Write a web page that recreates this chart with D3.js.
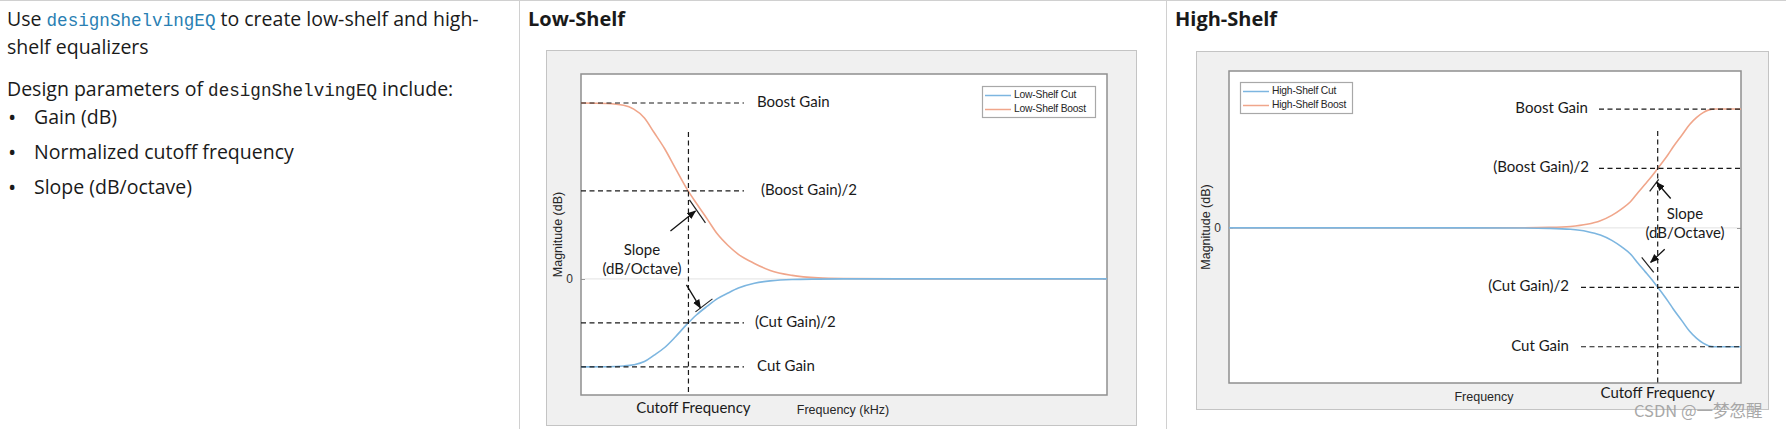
<!DOCTYPE html>
<html><head><meta charset="utf-8">
<script src="https://cdn.jsdelivr.net/npm/d3@7"></script>
<style>body{margin:0;background:#fff;}svg{display:block;}</style>
</head><body>
<svg id="c" width="1786" height="429"></svg>
<script>
// ---------- data ----------
const lowFreq  = [0.02, 0.028, 0.035, 0.04, 0.046, 0.052, 0.06, 0.069, 0.08, 0.091, 0.105, 0.12, 0.138, 0.158, 0.195, 0.24, 0.32, 0.45, 0.63, 1.26, 5, 20];
const lowBoost = [10, 9.97, 9.87, 9.65, 9.15, 8.35, 7.4, 6.3, 5.15, 4.3, 3.4, 2.55, 1.9, 1.4, 0.88, 0.48, 0.2, 0.06, 0.02, 0, 0, 0];
const lowCut   = [-5, -4.99, -4.95, -4.88, -4.7, -4.35, -3.9, -3.3, -2.6, -2.05, -1.55, -1.12, -0.8, -0.52, -0.25, -0.11, -0.03, -0.01, 0, 0, 0, 0];
const highFreq  = [0.02, 0.1, 0.5, 1, 1.5, 2, 2.5, 3, 3.5, 4, 4.5, 5, 5.5, 6, 6.5, 7, 7.5, 8, 9, 10, 11, 12, 13, 14, 16, 20];
const highBoost = [0, 0, 0, 0.01, 0.04, 0.12, 0.3, 0.6, 1.05, 1.6, 2.2, 3.0, 3.7, 4.35, 5.0, 5.6, 6.2, 6.8, 7.8, 8.7, 9.3, 9.7, 9.93, 10, 10, 10];
const highCut   = [0, 0, 0, -0.01, -0.04, -0.12, -0.3, -0.6, -1.05, -1.6, -2.2, -3.0, -3.7, -4.35, -5.0, -5.6, -6.2, -6.8, -7.8, -8.7, -9.3, -9.7, -9.93, -10, -10, -10];
const lowLegend  = ["Low-Shelf Cut", "Low-Shelf Boost"];
const highLegend = ["High-Shelf Cut", "High-Shelf Boost"];
const lowLevels  = [["Boost Gain", 10], ["(Boost Gain)/2", 5], ["(Cut Gain)/2", -2.5], ["Cut Gain", -5]];
const highLevels = [["Boost Gain", 10], ["(Boost Gain)/2", 5], ["(Cut Gain)/2", -5], ["Cut Gain", -10]];
const lowCutoff = 0.082, highCutoff = 6.5;
const yTicks = [0];
const bullets = ["Gain (dB)", "Normalized cutoff frequency", "Slope (dB/octave)"];

const blue = "#7db6e0", orange = "#f0a68b";
const svg = d3.select("#c");
const ANN = "Lato, 'Open Sans', sans-serif";
const HELV = "'Liberation Sans', Arial, sans-serif";

// page frame
svg.append("line").attr("x1",0).attr("x2",1786).attr("y1",0.5).attr("y2",0.5).attr("stroke","#d0d0d0");
[519.5, 1166.5].forEach(x => svg.append("line").attr("x1",x).attr("x2",x).attr("y1",0).attr("y2",429).attr("stroke","#d0d0d0"));

// left text
const TF = "'Open Sans', 'Noto Sans', sans-serif", MF = "'Liberation Mono', 'DejaVu Sans Mono', monospace";
const FS = 19.5;
function rich(y, parts){
  const t = svg.append("text").attr("x",7).attr("y",y).attr("font-family",TF).attr("font-size",FS).attr("fill","#1a1a1a");
  parts.forEach(p => t.append("tspan").text(p[0]).attr("font-family", p[1] ? MF : TF).attr("font-size", p[1]?17.6:FS).attr("fill", p[2] || "#1a1a1a"));
}
rich(26, [["Use "], ["designShelvingEQ", true, "#2a7fb3"], [" to create low-shelf and high-"]]);
rich(54, [["shelf equalizers"]]);
rich(96, [["Design parameters of "], ["designShelvingEQ", true, "#222"], [" include:"]]);
bullets.forEach((b,i) => {
  const y = [124,159,194][i];
  svg.append("text").attr("x",8).attr("y",y+1).attr("font-family",TF).attr("font-size",22).attr("fill","#1a1a1a").text("•");
  svg.append("text").attr("x",34).attr("y",y).attr("font-family",TF).attr("font-size",FS).attr("fill","#1a1a1a").text(b);
});

// titles
svg.append("text").attr("x",528).attr("y",26).attr("font-family",TF).attr("font-weight","bold").attr("font-size",20).attr("fill","#1a1a1a").text("Low-Shelf");
svg.append("text").attr("x",1175).attr("y",26).attr("font-family",TF).attr("font-weight","bold").attr("font-size",20).attr("fill","#1a1a1a").text("High-Shelf");

// arrow marker
svg.append("defs").append("marker").attr("id","ah").attr("viewBox","0 0 10 10").attr("refX",9).attr("refY",5)
  .attr("markerWidth",7).attr("markerHeight",7).attr("orient","auto")
  .append("path").attr("d","M0,1 L10,5 L0,9 Z").attr("fill","#111");

function panel(cfg){
  const g = svg.append("g");
  g.append("rect").attr("x",cfg.outer[0]+0.5).attr("y",cfg.outer[1]+0.5).attr("width",cfg.outer[2]-cfg.outer[0]).attr("height",cfg.outer[3]-cfg.outer[1])
    .attr("fill","#f0f0f0").attr("stroke","#c4c4c4");
  const x = cfg.x, y = cfg.y;
  const [x0,x1] = x.range(), [y0,y1] = y.range();
  g.append("rect").attr("x",x0).attr("y",y1).attr("width",x1-x0).attr("height",y0-y1).attr("fill","#fff").attr("stroke","#8f8f8f").attr("stroke-width",1.5);
  // zero line
  g.append("line").attr("x1",x0+4).attr("x2",x1-4).attr("y1",y(0)).attr("y2",y(0)).attr("stroke","#e2e2e2");
  // y axis tick label
  const ax = g.append("g").attr("transform",`translate(${x0},0)`).call(d3.axisLeft(y).tickValues(yTicks).tickSize(-4).tickPadding(8).tickFormat(d3.format("d")));
  ax.select(".domain").remove();
  ax.selectAll("line").attr("stroke","#8f8f8f");
  ax.selectAll("text").attr("font-family",HELV).attr("font-size",12).attr("fill","#333");
  const ax2 = g.append("g").attr("transform",`translate(${x1},0)`).call(d3.axisRight(y).tickValues(yTicks).tickSize(-4).tickFormat(""));
  ax2.select(".domain").remove(); ax2.selectAll("line").attr("stroke","#8f8f8f");
  g.append("text").attr("transform",`translate(${cfg.ylabX},${(y0+y1)/2}) rotate(-90)`).attr("text-anchor","middle").attr("dominant-baseline","middle")
    .attr("font-family",HELV).attr("font-size",12.5).attr("fill","#262626").text("Magnitude (dB)");
  g.append("text").attr("x",cfg.xlab[0]).attr("y",cfg.xlab[1]).attr("text-anchor","middle").attr("dominant-baseline","middle")
    .attr("font-family",HELV).attr("font-size",12.5).attr("fill","#262626").text(cfg.xlabText);
  // curves
  const line = d3.line().x(d=>x(d[0])).y(d=>y(d[1])).curve(d3.curveMonotoneX);
  g.append("path").datum(cfg.freq.map((f,i)=>[f,cfg.boost[i]])).attr("d",line).attr("fill","none").attr("stroke",orange).attr("stroke-width",1.6);
  g.append("path").datum(cfg.freq.map((f,i)=>[f,cfg.cut[i]])).attr("d",line).attr("fill","none").attr("stroke",blue).attr("stroke-width",1.6);
  // dashed reference lines
  const cx = x(cfg.cutoff);
  cfg.levels.forEach((lv,i) => {
    const yy = y(lv[1]);
    const [a,b] = cfg.dash[i];
    g.append("line").attr("x1",a).attr("x2",b).attr("y1",yy).attr("y2",yy).attr("stroke","#1a1a1a").attr("stroke-width",1.2).attr("stroke-dasharray","5,3.5");
    g.append("text").attr("x",cfg.labX[i]).attr("y",yy).attr("text-anchor",cfg.labAnchor).attr("dominant-baseline","middle")
      .attr("font-family",ANN).attr("font-size",15).attr("fill","#1a1a1a").text(lv[0]);
  });
  g.append("line").attr("x1",cx).attr("x2",cx).attr("y1",y(cfg.vTop)).attr("y2",y0).attr("stroke","#1a1a1a").attr("stroke-width",1.2).attr("stroke-dasharray","5,3.5");
  g.append("text").attr("x",cx+cfg.cfDx).attr("y",cfg.cfY).attr("text-anchor","middle").attr("dominant-baseline","middle")
    .attr("font-family",ANN).attr("font-size",15).attr("fill","#1a1a1a").text("Cutoff Frequency");
  g.append("text").attr("x",cfg.slope[0]).attr("y",cfg.slope[1]).attr("text-anchor","middle").attr("dominant-baseline","middle")
    .attr("font-family",ANN).attr("font-size",15).attr("fill","#1a1a1a").text("Slope");
  g.append("text").attr("x",cfg.slope[0]).attr("y",cfg.slope[1]+19).attr("text-anchor","middle").attr("dominant-baseline","middle")
    .attr("font-family",ANN).attr("font-size",15).attr("fill","#1a1a1a").text("(dB/Octave)");
  // tangents and arrows
  cfg.marks.forEach(m => {
    const py = y(m.level);
    g.append("line").attr("x1",cx+m.t[0]).attr("y1",py+m.t[1]).attr("x2",cx+m.t[2]).attr("y2",py+m.t[3]).attr("stroke","#222").attr("stroke-width",1.2);
    g.append("line").attr("x1",cx+m.a[0]).attr("y1",py+m.a[1]).attr("x2",cx+m.a[2]).attr("y2",py+m.a[3]).attr("stroke","#111").attr("stroke-width",1.3).attr("marker-end","url(#ah)");
  });
  // legend
  const lg = g.append("g");
  const L = cfg.legend;
  lg.append("rect").attr("x",L.x+0.5).attr("y",L.y+0.5).attr("width",L.w).attr("height",L.h).attr("fill","#fff").attr("stroke","#a8a8a8").attr("stroke-width",1.2);
  cfg.legendText.forEach((t,i)=>{
    const ly = L.y + 9.5 + i*14;
    lg.append("line").attr("x1",L.x+3).attr("x2",L.x+29).attr("y1",ly).attr("y2",ly).attr("stroke", i===0?blue:orange).attr("stroke-width",1.5);
    lg.append("text").attr("x",L.x+32).attr("y",ly).attr("dominant-baseline","middle").attr("font-family",HELV).attr("font-size",10.3)
      .attr("fill","#262626").attr("letter-spacing",-0.2).text(t);
  });
}

const lx = d3.scaleLog().domain([0.02,20]).range([581,1107]);
const ly = d3.scaleLinear().domain([-6.6,11.65]).range([395,74]);
panel({
  outer:[546,50,1136,425], x:lx, y:ly, ylabX:559, xlab:[843,411], xlabText:"Frequency (kHz)",
  freq:lowFreq, boost:lowBoost, cut:lowCut, cutoff:lowCutoff, levels:lowLevels,
  dash:[[581,744],[581,744],[581,744],[581,744]], labX:[757,761,755,757], labAnchor:"start",
  vTop:8.35, cfDx:5, cfY:409, slope:[642,251],
  marks:[{level:5, t:[1,9,17,32], a:[-18,40,7,20]}, {level:-2.5, t:[7,-11,24,-24], a:[-2,-38,12,-15]}],
  legend:{x:982,y:86,w:113,h:31}, legendText:lowLegend
});
const hx = d3.scaleLog().domain([0.02,20]).range([1229,1741]);
const hy = d3.scaleLinear().domain([-13.05,13.2]).range([383,71]);
panel({
  outer:[1196,51,1768,409], x:hx, y:hy, ylabX:1207, xlab:[1484,398], xlabText:"Frequency",
  freq:highFreq, boost:highBoost, cut:highCut, cutoff:highCutoff, levels:highLevels,
  dash:[[1599,1741],[1599,1741],[1581,1741],[1581,1741]], labX:[1588,1589,1569,1569], labAnchor:"end",
  vTop:8.15, cfDx:0, cfY:394, slope:[1685,215],
  marks:[{level:5, t:[-8,23,1,11], a:[13,30,-1,14]}, {level:-5, t:[-16,-30,-4,-15], a:[7,-38,-7,-25]}],
  legend:{x:1240,y:82,w:112,h:31}, legendText:highLegend
});

// watermark
svg.append("text").attr("x",1634).attr("y",413).attr("dominant-baseline","middle").attr("font-family","'Noto Sans CJK SC', sans-serif")
  .attr("font-size",16.5).attr("fill","#9a9a9a").attr("opacity",0.85).text("CSDN @一梦忽醒");
</script>
</body></html>
